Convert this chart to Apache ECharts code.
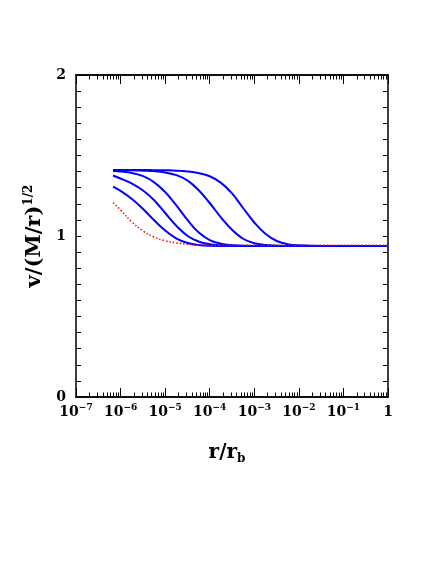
<!DOCTYPE html>
<html>
<head>
<meta charset="utf-8">
<script src="https://cdn.jsdelivr.net/npm/echarts@6/dist/echarts.min.js"></script>
<style>
  html, body { margin: 0; padding: 0; background: #fff; }
  #chart { width: 436px; height: 564px; }
</style>
</head>
<body>
<div id="chart"></div>
<script>
// radius grid (r / r_b) shared by all curves
var rValues = [6.8e-7, 1e-6, 1.8e-6, 3.2e-6, 5.6e-6, 1e-5, 1.8e-5, 3.2e-5, 5.6e-5, 1e-4, 1.8e-4,
               3.2e-4, 5.6e-4, 1e-3, 1.8e-3, 3.2e-3, 5.6e-3, 1e-2, 3.2e-2, 0.1, 0.32, 1];

// v / (M/r)^1/2, blue curves from left-most to right-most
var curve1 = [1.307, 1.280, 1.230, 1.168, 1.099, 1.034, 0.984, 0.957, 0.944, 0.939, 0.938,
              0.938, 0.938, 0.938, 0.938, 0.938, 0.938, 0.938, 0.938, 0.938, 0.938, 0.938];
var curve2 = [1.376, 1.357, 1.326, 1.283, 1.224, 1.143, 1.062, 1.000, 0.966, 0.949, 0.942,
              0.939, 0.938, 0.938, 0.938, 0.938, 0.938, 0.938, 0.938, 0.938, 0.938, 0.938];
var curve3 = [1.403, 1.400, 1.391, 1.372, 1.335, 1.273, 1.188, 1.098, 1.023, 0.975, 0.952,
              0.943, 0.939, 0.938, 0.938, 0.938, 0.938, 0.938, 0.938, 0.938, 0.938, 0.938];
var curve4 = [1.410, 1.410, 1.409, 1.406, 1.403, 1.395, 1.378, 1.344, 1.286, 1.205, 1.114,
              1.037, 0.983, 0.955, 0.944, 0.940, 0.938, 0.938, 0.938, 0.938, 0.938, 0.938];
var curve5 = [1.410, 1.410, 1.410, 1.410, 1.409, 1.408, 1.406, 1.401, 1.391, 1.371, 1.330,
              1.263, 1.174, 1.084, 1.012, 0.969, 0.949, 0.942, 0.938, 0.938, 0.938, 0.938];
// red dotted curve
var curveRed = [1.208, 1.161, 1.087, 1.031, 0.994, 0.970, 0.957, 0.949, 0.944, 0.942, 0.942,
                0.942, 0.942, 0.942, 0.942, 0.942, 0.942, 0.942, 0.942, 0.942, 0.942, 0.942];

var majorTicks = [1e-7, 1e-6, 1e-5, 1e-4, 1e-3, 1e-2, 1e-1, 1];
var minorTicks = [];
for (var d = 0; d < 7; d++) {
    for (var k = 2; k <= 9; k++) {
        minorTicks.push(parseFloat((k * majorTicks[d]).toPrecision(3)));
    }
}

var font = 'DejaVu Serif';

function pairs(ys) {
    return ys.map(function (y, i) { return [rValues[i], y]; });
}

function xAxisCfg(pos, ticks, len, labels) {
    return {
        type: 'log',
        logBase: 10,
        position: pos,
        min: 1e-7,
        max: 1,
        gridIndex: 0,
        axisLine: { show: true, lineStyle: { color: '#000', width: 1.5 } },
        axisTick: { show: true, inside: true, length: len, customValues: ticks,
                    lineStyle: { color: '#000', width: 1 } },
        axisLabel: labels ? {
            show: true,
            customValues: majorTicks,
            margin: 6,
            formatter: function (v) {
                var e = Math.round(Math.log10(v));
                if (e === 0) return '{a|1}';
                return '{a|10}{b|\u2212' + (-e) + '}';
            },
            rich: {
                a: { fontFamily: font, fontWeight: 'bold', fontSize: 14, lineHeight: 18, color: '#000' },
                b: { fontFamily: font, fontWeight: 'bold', fontSize: 9, lineHeight: 11,
                     verticalAlign: 'top', color: '#000' }
            }
        } : { show: false },
        splitLine: { show: false },
        minorTick: { show: false },
        minorSplitLine: { show: false }
    };
}

function yAxisCfg(pos, labels) {
    return {
        type: 'value',
        position: pos,
        min: 0,
        max: 2,
        interval: 1,
        axisLine: { show: true, lineStyle: { color: '#000', width: 1.5 } },
        axisTick: { show: true, inside: true, length: 5, lineStyle: { color: '#000', width: 1 } },
        minorTick: { show: true, splitNumber: 10, length: 5, lineStyle: { color: '#000', width: 1 } },
        axisLabel: labels ? {
            show: true, margin: 10, color: '#000',
            fontFamily: font, fontWeight: 'bold', fontSize: 14
        } : { show: false },
        splitLine: { show: false },
        minorSplitLine: { show: false }
    };
}

var xMain = xAxisCfg('bottom', majorTicks, 9, true);
xMain.name = '{a|r/r}{b|b}';
xMain.nameLocation = 'middle';
xMain.nameGap = 44;
xMain.nameTextStyle = {
    padding: [0, 10, 0, 0],
    rich: {
        a: { fontFamily: font, fontWeight: 'bold', fontSize: 20, lineHeight: 24, color: '#000' },
        b: { fontFamily: font, fontWeight: 'bold', fontSize: 12, lineHeight: 12,
             verticalAlign: 'bottom', color: '#000' }
    }
};

var yMain = yAxisCfg('left', true);
yMain.name = '{a|v/(M/r)}{b|1/2}';
yMain.nameLocation = 'middle';
yMain.nameGap = 28;
yMain.nameTextStyle = {
    rich: {
        a: { fontFamily: font, fontWeight: 'bold', fontSize: 21, lineHeight: 24, color: '#000' },
        b: { fontFamily: font, fontWeight: 'bold', fontSize: 12, lineHeight: 12,
             verticalAlign: 'top', color: '#000' }
    }
};

function blue(name, ys) {
    return {
        name: name, type: 'line', data: pairs(ys), smooth: 0.4, symbol: 'none',
        xAxisIndex: 0, yAxisIndex: 0,
        lineStyle: { color: '#0000ff', width: 2 }, z: 3
    };
}

var chart = echarts.init(document.getElementById('chart'), null, { renderer: 'canvas' });
chart.setOption({
    backgroundColor: '#fff',
    animation: false,
    grid: { left: 76, right: 48, top: 75, bottom: 167, containLabel: false },
    xAxis: [
        xMain,
        xAxisCfg('bottom', minorTicks, 4.5, false),
        xAxisCfg('top', majorTicks, 9, false),
        xAxisCfg('top', minorTicks, 4.5, false)
    ],
    yAxis: [yMain, yAxisCfg('right', false)],
    series: [
        blue('c1', curve1),
        blue('c2', curve2),
        blue('c3', curve3),
        blue('c4', curve4),
        blue('c5', curve5),
        {
            name: 'red', type: 'line', data: pairs(curveRed), smooth: 0.4, symbol: 'none',
            xAxisIndex: 0, yAxisIndex: 0,
            lineStyle: { color: '#ff0000', width: 1.5, type: [1.5, 2] }, z: 4
        }
    ]
});
</script>
</body>
</html>
